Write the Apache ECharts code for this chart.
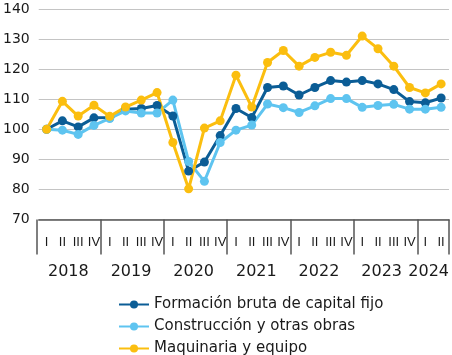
<!DOCTYPE html>
<html>
<head>
<meta charset="utf-8">
<script src="https://cdn.jsdelivr.net/npm/echarts@6/dist/echarts.min.js"></script>
<style>
  html, body { margin: 0; padding: 0; background: #fff; }
  #chart { width: 452px; height: 355px; }
</style>
</head>
<body>
<div id="chart"></div>
<script>
var chart = echarts.init(document.getElementById('chart'));

// datos
const quarters = ['I', 'II', 'III', 'IV', 'I', 'II', 'III', 'IV', 'I', 'II', 'III', 'IV',
  'I', 'II', 'III', 'IV', 'I', 'II', 'III', 'IV', 'I', 'II', 'III', 'IV', 'I', 'II'];
const years = ['2018', '2019', '2020', '2021', '2022', '2023', '2024'];
const yearCenters = [2, 6, 10, 14, 18, 22, 25];   // posición en trimestres
const seriesNames = ['Formación bruta de capital fijo', 'Construcción y otras obras', 'Maquinaria y equipo'];
const formacion = [100, 102.8, 100.8, 103.8, 103.9, 106.7, 106.9, 107.9, 104.4, 86.1, 89.1, 97.9,
  106.9, 103.9, 113.9, 114.4, 111.4, 113.9, 116.2, 115.7, 116.2, 115.1, 113.2, 109.2, 108.8, 110.4];
const construccion = [100, 99.7, 98.3, 101.3, 103.6, 106.1, 105.4, 105.4, 109.7, 89.3, 82.7, 95.6,
  99.7, 101.4, 108.4, 107.2, 105.6, 107.8, 110.2, 110.2, 107.3, 107.9, 108.3, 106.7, 106.7, 107.3];
const maquinaria = [100, 109.3, 104.4, 108, 104.3, 107.4, 109.7, 112.2, 95.6, 80.2, 100.4, 102.8,
  118, 107.4, 122.2, 126.2, 121, 123.9, 125.6, 124.6, 131, 126.8, 121, 113.9, 112.1, 115.1];
const colors = ['#0b5d96', '#5ec4f0', '#fbbe0f'];

const font = 'DejaVu Sans';
const gridBox = { left: 37, right: 3, top: 9, bottom: 135.5 };

function lineSeries(name, data, color) {
  return {
    name: name,
    type: 'line',
    data: data,
    xAxisIndex: 0,
    yAxisIndex: 0,
    symbol: 'circle',
    symbolSize: 9,
    lineStyle: { width: 3, color: color },
    itemStyle: { color: color },
    emphasis: { disabled: true }
  };
}

const options = {
  animation: false,
  grid: [
    Object.assign({}, gridBox),
    Object.assign({}, gridBox),
    Object.assign({}, gridBox)
  ],
  legend: {
    orient: 'vertical',
    left: 118,
    top: 297,
    height: 80,
    padding: 0,
    itemWidth: 30,
    itemHeight: 10,
    itemGap: 7,
    data: seriesNames,
    textStyle: { fontFamily: font, fontSize: 15, color: '#1a1a1a' }
  },
  xAxis: [{
    // trimestres
    type: 'category',
    gridIndex: 0,
    data: quarters,
    boundaryGap: true,
    axisLine: { show: true, lineStyle: { color: '#555', width: 1.5 } },
    axisTick: { show: false },
    axisLabel: { interval: 0, margin: 16, fontFamily: 'Liberation Sans', fontSize: 13, color: '#1a1a1a' }
  }, {
    // separadores de año
    type: 'value',
    gridIndex: 1,
    min: 0,
    max: quarters.length,
    interval: 4,
    axisLine: { show: false },
    axisTick: { show: true, length: 35, lineStyle: { color: '#555', width: 1.5 } },
    axisLabel: { show: false },
    splitLine: { show: false }
  }, {
    // años
    type: 'value',
    gridIndex: 2,
    min: 0,
    max: quarters.length,
    interval: 1,
    axisLine: { show: false },
    axisTick: { show: false },
    splitLine: { show: false },
    axisLabel: {
      margin: 44,
      fontFamily: font,
      fontSize: 16,
      color: '#1a1a1a',
      formatter: function (v) {
        const k = yearCenters.indexOf(v);
        return k >= 0 ? years[k] : '';
      }
    }
  }],
  yAxis: [{
    type: 'value',
    gridIndex: 0,
    min: 70,
    max: 140,
    interval: 10,
    axisLine: { show: false },
    axisTick: { show: false },
    splitLine: { lineStyle: { color: '#c4c4c4', width: 1 } },
    axisLabel: { margin: 9, fontFamily: font, fontSize: 14, color: '#1a1a1a' }
  }, {
    type: 'value', gridIndex: 1, show: false
  }, {
    type: 'value', gridIndex: 2, show: false
  }],
  series: [
    lineSeries(seriesNames[0], formacion, colors[0]),
    lineSeries(seriesNames[1], construccion, colors[1]),
    lineSeries(seriesNames[2], maquinaria, colors[2])
  ]
};

chart.setOption(options);
</script>
</body>
</html>
